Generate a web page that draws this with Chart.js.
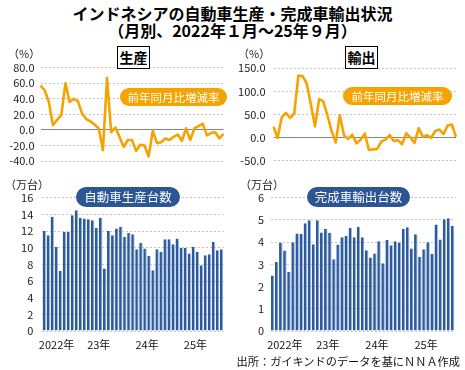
<!DOCTYPE html>
<html lang="ja">
<head>
<meta charset="utf-8">
<title>インドネシアの自動車生産・完成車輸出状況</title>
<script src="https://cdn.jsdelivr.net/npm/chart.js@4.4.1/dist/chart.umd.min.js"></script>
<style>
  body { margin: 0; background: #fff; font-family: 'Noto Sans CJK JP', sans-serif; color: #111; }
  #wrap { position: relative; width: 465px; height: 370px; overflow: hidden; background: #fff; }
  canvas { position: absolute; }
  .t { position: absolute; white-space: nowrap; }
  .title { left: 0; top: 5px; width: 465px; text-align: center; font-weight: bold; font-size: 16px; line-height: 17px; color: #000; }
  .unit { font-size: 11px; line-height: 12px; color: #222; }
  .box { width: 31px; height: 21px; border: 1px solid #000; background: #fff; font-weight: bold; font-size: 14px; line-height: 21px; text-align: center; color: #000; }
  .pill { height: 18px; border-radius: 9px; background: #f5a300; color: #fff; font-size: 11.5px; line-height: 18px; text-align: center; }
  .bpill { height: 20px; border-radius: 10px; background: #2c5594; color: #fff; font-size: 12.5px; line-height: 20px; text-align: center; }
  .src { right: 5px; top: 354px; font-size: 11.2px; line-height: 14px; color: #111; }
</style>
</head>
<body>
<div id="wrap">
  <div class="t title">インドネシアの自動車生産・完成車輸出状況<br>（月別、2022年１月～25年９月）</div>

  <canvas id="prod-pct" width="232" height="135" style="left:0;top:40px"></canvas>
  <canvas id="export-pct" width="233" height="135" style="left:232px;top:40px"></canvas>
  <canvas id="prod-units" width="232" height="185" style="left:0;top:175px"></canvas>
  <canvas id="export-units" width="233" height="185" style="left:232px;top:175px"></canvas>

  <div class="t unit" style="left:8px;top:47px">（%）</div>
  <div class="t unit" style="left:238px;top:47px">（%）</div>
  <div class="t unit" style="left:5px;top:178px">（万台）</div>
  <div class="t unit" style="left:240px;top:178px">（万台）</div>

  <div class="t box" style="left:117px;top:46px">生産</div>
  <div class="t box" style="left:345px;top:46px">輸出</div>

  <div class="t pill" style="left:120px;top:88px;width:107px">前年同月比増減率</div>
  <div class="t pill" style="left:343px;top:87px;width:109px">前年同月比増減率</div>

  <div class="t bpill" style="left:76px;top:187px;width:104px">自動車生産台数</div>
  <div class="t bpill" style="left:307px;top:187px;width:103px">完成車輸出台数</div>

  <div class="t src">出所：ガイキンドのデータを基にＮＮＡ作成</div>
</div>
<script>
// Monthly categories, Jan 2022 - Sep 2025
const months = [];
for (let y = 2022; y <= 2025; y++) {
    for (let m = 1; m <= 12; m++) {
        if (y === 2025 && m > 9) break;
        months.push(y + '/' + m);
    }
}
const yearLabels = ['2022年', '23年', '24年', '25年'];

// Production, 10k units
const prodUnits = [
    12.0, 11.5, 13.7, 10.1, 7.2, 11.9, 11.9, 13.9, 14.5, 13.6, 13.5, 13.4,
    13.3, 12.4, 13.6, 7.5, 12.0, 11.5, 12.3, 12.5, 11.3, 11.8, 11.6, 9.8,
    10.6, 9.9, 9.0, 7.3, 9.8, 9.5, 11.0, 11.0, 10.4, 11.1, 10.0, 10.0,
    9.3, 10.1, 9.5, 7.9, 9.1, 9.2, 10.7, 9.7, 9.8
];
// CBU exports, 10k units
const exportUnits = [
    2.50, 3.11, 3.97, 3.62, 2.66, 4.00, 4.39, 4.37, 4.85, 4.99, 3.90, 4.99,
    4.43, 4.60, 4.42, 3.23, 3.89, 4.22, 4.28, 4.64, 4.22, 4.69, 4.22, 3.64,
    3.31, 3.49, 4.04, 3.05, 4.10, 3.86, 4.04, 3.98, 4.60, 4.67, 3.71, 4.36,
    3.34, 3.68, 4.00, 3.48, 4.79, 4.12, 5.03, 5.07, 4.73
];
// Year-on-year change, %
const prodYoY = [
    57, 51, 36, 6, 13, 19, 60, 36, 40, 37, 21, 14,
    11, 7, 2, -26, 67, -3, 3, -9, -22, -13, -13, -27,
    -19, -20, -34, -1, -17, -16, -11, -13, -9, -6, -14, 2,
    -13, 2, 5, 8, -7, -4, -3, -11, -5
];
const exportYoY = [
    23, -1, 44, 53, 42, 52, 134, 133, 117, 72, 24, 83,
    78, 48, 14, -11, 48, 4, -3, 6, -13, -5, 8, -27,
    -26, -25, -9, -5, 5, -8, -6, -15, 9, 0, -12, 20,
    1, 5, -1, 14, 17, 7, 26, 28, 1
];

// Axis ticks
const prodPctTicks = [-40, -20, 0, 20, 40, 60, 80];
const exportPctTicks = [-50, 0, 50, 100, 150];
const prodUnitTicks = [0, 2, 4, 6, 8, 10, 12, 14, 16];
const exportUnitTicks = [0, 1, 2, 3, 4, 5, 6];

const ORANGE = '#f5a300';
const BLUE = '#2d5a9b';

Chart.defaults.font.family = "'Noto Sans CJK JP', sans-serif";
Chart.defaults.font.size = 11;
Chart.defaults.color = '#222';

function yAxis(ticks, axisW, tickPad, fmt) {
    return {
        min: ticks[0],
        max: ticks[ticks.length - 1],
        afterBuildTicks: s => { s.ticks = ticks.map(v => ({ value: v })); },
        afterFit: s => { s.width = axisW; },
        grid: {
            drawTicks: false,
            color: c => (c.tick && c.tick.value === 0 && ticks[0] < 0) ? '#858585' : '#c6c6c6'
        },
        border: {
            display: false,
            dash: c => (c.tick && c.tick.value === 0 && ticks[0] < 0) ? [] : [2, 2]
        },
        ticks: { padding: tickPad, autoSkip: false, callback: fmt }
    };
}

function lineChart(id, values, ticks, axisW, tickPad, pad) {
    return new Chart(document.getElementById(id), {
        type: 'line',
        data: {
            labels: months,
            datasets: [{
                data: values,
                borderColor: ORANGE,
                borderWidth: 2.6,
                pointRadius: 0,
                tension: 0,
                borderJoinStyle: 'round'
            }]
        },
        options: {
            responsive: false,
            animation: false,
            layout: { padding: pad },
            plugins: { legend: { display: false }, tooltip: { enabled: false } },
            scales: {
                x: { display: false },
                y: yAxis(ticks, axisW, tickPad, v => v.toFixed(1))
            }
        }
    });
}

function barChart(id, values, ticks, axisW, tickPad, pad) {
    return new Chart(document.getElementById(id), {
        type: 'bar',
        data: {
            labels: months,
            datasets: [{
                data: values,
                backgroundColor: BLUE,
                borderColor: '#a4bde2',
                borderWidth: { top: 0, left: 0, bottom: 0, right: 1 },
                borderSkipped: false,
                barPercentage: 0.87,
                categoryPercentage: 1
            }]
        },
        options: {
            responsive: false,
            animation: false,
            layout: { padding: pad },
            plugins: { legend: { display: false }, tooltip: { enabled: false } },
            scales: {
                x: {
                    afterFit: s => { s.height = 25; },
                    grid: { display: false },
                    border: { display: false },
                    ticks: {
                        autoSkip: false,
                        maxRotation: 0,
                        align: 'start',
                        labelOffset: -5.5,
                        padding: -1,
                        color: '#111',
                        callback: (v, i) => i % 12 === 0 ? yearLabels[i / 12] : ''
                    }
                },
                y: yAxis(ticks, axisW, tickPad, v => v)
            }
        }
    });
}

lineChart('prod-pct', prodYoY, prodPctTicks, 40.5, 6, { top: 27.7, right: 8.5, bottom: 14, left: 0 });
lineChart('export-pct', exportYoY, exportPctTicks, 41.5, 8, { top: 28.3, right: 9, bottom: 14, left: 0 });
barChart('prod-units', prodUnits, prodUnitTicks, 42.3, 9, { top: 22.7, right: 8.4, bottom: 4, left: 0 });
barChart('export-units', exportUnits, exportUnitTicks, 38.6, 6.6, { top: 22.7, right: 10.3, bottom: 4, left: 0 });
</script>
</body>
</html>
